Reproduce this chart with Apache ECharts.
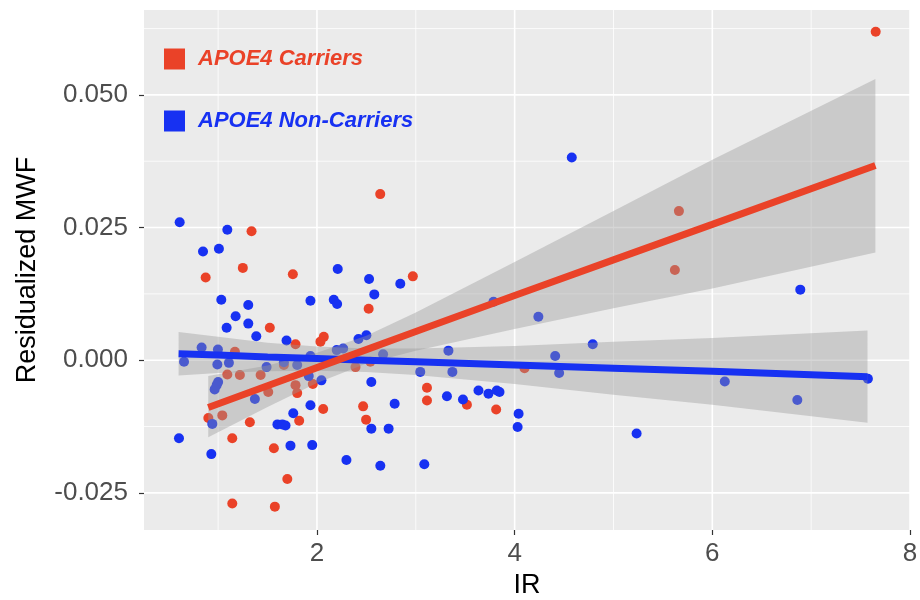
<!DOCTYPE html>
<html><head><meta charset="utf-8">
<script src="https://cdn.jsdelivr.net/npm/echarts@6/dist/echarts.min.js"></script>
<style>html,body{margin:0;padding:0;background:#fff}#c{width:920px;height:600px}</style>
</head><body><div id="c"></div>
<script>
// ---------- data ----------
const carriersIR = [1.338,1.25,0.874,1.756,1.523,1.783,2.069,2.035,1.17,1.093,1.22,1.43,1.783,1.958,1.507,1.80,2.063,0.901,1.042,1.321,1.82,1.143,1.564,1.70,1.143,1.574,2.64,2.97,2.523,2.39,2.54,3.113,3.113,2.467,2.497,3.517,3.813,4.10,5.662,5.621,7.653,1.665];
const carriersMWF = [0.0243,0.0174,0.0156,0.0162,0.0061,0.0030,0.0044,0.0035,0.0016,-0.0027,-0.0028,-0.0028,-0.0047,-0.0045,-0.0060,-0.0062,-0.0092,-0.0109,-0.0104,-0.0117,-0.0114,-0.0147,-0.0166,-0.0224,-0.0270,-0.0276,0.0313,0.0158,0.0097,-0.0013,-0.0003,-0.0052,-0.0076,-0.0087,-0.0112,-0.0084,-0.0093,-0.0015,0.0281,0.0170,0.0619,-0.0009];

const nonCarriersIR = [0.611,1.093,0.847,1.008,2.21,1.032,1.305,1.934,2.17,2.204,1.177,1.305,1.086,1.386,1.692,0.833,0.998,0.655,0.992,1.109,1.49,1.665,1.934,2.20,1.00,0.985,0.965,1.917,2.045,1.372,1.76,1.934,0.941,1.60,1.65,1.682,0.604,1.732,1.952,0.931,2.527,2.58,2.843,3.786,4.24,2.265,2.42,2.50,2.669,3.33,3.045,3.37,2.55,2.786,2.55,2.725,3.315,3.477,3.634,3.735,3.82,3.847,4.04,4.03,2.298,2.641,3.086,4.578,6.89,4.79,4.41,4.45,6.126,6.86,7.574,5.234,1.80];
const nonCarriersMWF = [0.0260,0.0246,0.0205,0.0210,0.0172,0.0114,0.0104,0.0112,0.0114,0.0106,0.0083,0.0069,0.0061,0.0045,0.0037,0.0024,0.0020,-0.0003,-0.0008,-0.0005,-0.0013,-0.0004,0.0008,0.0019,-0.0041,-0.0047,-0.0055,-0.0030,-0.0038,-0.0073,-0.0100,-0.0085,-0.0120,-0.0121,-0.0121,-0.0123,-0.0147,-0.0161,-0.0160,-0.0177,0.0153,0.0124,0.0144,0.0110,0.0082,0.0022,0.0040,0.0047,0.0011,0.0018,-0.0022,-0.0022,-0.0041,-0.0082,-0.0129,-0.0129,-0.0068,-0.0074,-0.0057,-0.0063,-0.0057,-0.0060,-0.0101,-0.0126,-0.0188,-0.0199,-0.0196,0.0382,0.0133,0.0030,0.0008,-0.0024,-0.0040,-0.0075,-0.0035,-0.0138,-0.0009];

// fitted lines and confidence bands
const carriersFitIR = [0.9,1.5,2,2.5,3,4,5,6,7.65];
const carriersFit   = [-0.0089,-0.0048,-0.0014,0.0020,0.0054,0.0122,0.0189,0.0256,0.0367];
const carriersLower = [-0.0145,-0.0088,-0.0043,-0.0006,0.0018,0.0059,0.0098,0.0135,0.0203];
const carriersUpper = [-0.0030,-0.0010,0.0014,0.0046,0.0090,0.0185,0.0281,0.0378,0.0530];

const nonCarriersFitIR = [0.6,1,1.5,2,2.5,3,4,5,6,7.57];
const nonCarriersFit   = [0.0012,0.0010,0.0006,0.0003,0.0000,-0.0003,-0.0009,-0.0015,-0.0021,-0.0031];
const nonCarriersLower = [-0.0029,-0.0024,-0.0021,-0.0020,-0.0022,-0.0028,-0.0045,-0.0065,-0.0084,-0.0118];
const nonCarriersUpper = [0.0053,0.0044,0.0033,0.0026,0.0022,0.0022,0.0027,0.0035,0.0042,0.0056];

// axes
const xRange = [0.25, 8.0];
const yRange = [-0.032, 0.066];
const xMajorTicks = [2,4,6,8];
const xMinorTicks = [1,3,5,7];
const yMajorTicks = [-0.025,0,0.025,0.05];
const yMinorTicks = [-0.0125,0.0125,0.0375,0.0625];

// ---------- chart ----------
const RED = '#EA4228';
const BLUE = '#1731F2';
const FONT = 'Liberation Sans, Arial, sans-serif';
const zip = (a, b) => a.map((v, i) => [v, b[i]]);

function bandSeries(name, xs, lo, hi) {
  return {
    type: 'custom', name: name, z: 3, silent: true, animation: false,
    data: xs.map((x, i) => [x, lo[i], hi[i]]),
    encode: { x: 0, y: [1, 2] },
    renderItem: function (params, api) {
      if (params.dataIndex !== 0) return null;
      const pts = [];
      for (let i = 0; i < xs.length; i++) pts.push(api.coord([xs[i], hi[i]]));
      for (let i = xs.length - 1; i >= 0; i--) pts.push(api.coord([xs[i], lo[i]]));
      return { type: 'polygon', shape: { points: pts }, style: { fill: 'rgba(153,153,153,0.4)' } };
    }
  };
}

// grid lines drawn through the axes' scales
function gridSeries(vertical, majors, minors) {
  const vals = majors.concat(minors);
  return {
    type: 'custom', name: vertical ? 'vgrid' : 'hgrid', z: 1, silent: true, animation: false, clip: true,
    data: vals.map(v => vertical ? [v, yRange[0]] : [xRange[0], v]),
    encode: { x: 0, y: 1 },
    renderItem: function (params, api) {
      const cs = params.coordSys;
      const v = api.value(vertical ? 0 : 1);
      const p = api.coord([api.value(0), api.value(1)]);
      const w = majors.indexOf(v) >= 0 ? 1.6 : 0.8;
      const shape = vertical
        ? { x1: p[0], y1: cs.y, x2: p[0], y2: cs.y + cs.height }
        : { x1: cs.x, y1: p[1], x2: cs.x + cs.width, y2: p[1] };
      return { type: 'line', shape: shape, style: { stroke: '#ffffff', lineWidth: w } };
    }
  };
}

const chart = echarts.init(document.getElementById('c'), null, { renderer: 'canvas' });
chart.setOption({
  animation: false,
  backgroundColor: '#ffffff',
  textStyle: { fontFamily: FONT },
  grid: { left: 144, right: 10, top: 10, bottom: 70, show: true, backgroundColor: '#EBEBEB', borderWidth: 0,
    containLabel: false, outerBoundsMode: 'none' },
  legend: {
    orient: 'vertical', left: 164, top: 48, padding: 0,
    itemWidth: 21, itemHeight: 21, itemGap: 40, icon: 'rect', selectedMode: false,
    textStyle: { fontSize: 22, fontStyle: 'italic', fontWeight: 600, fontFamily: FONT, padding: [6, 0, 0, 8] },
    data: [
      { name: 'APOE4 Carriers', textStyle: { color: RED } },
      { name: 'APOE4 Non-Carriers', textStyle: { color: BLUE } }
    ]
  },
  xAxis: {
    type: 'value', min: xRange[0], max: xRange[1],
    name: 'IR', nameLocation: 'middle', nameGap: 33,
    nameTextStyle: { fontSize: 27, color: '#000', fontFamily: FONT },
    axisLine: { show: false, onZero: false },
    axisTick: { show: true, customValues: xMajorTicks, length: 5, lineStyle: { color: '#333', width: 1.2 } },
    axisLabel: { customValues: xMajorTicks, fontSize: 26, color: '#4D4D4D', margin: 11, fontFamily: FONT },
    splitLine: { show: false }
  },
  yAxis: {
    type: 'value', min: yRange[0], max: yRange[1],
    name: 'Residualized MWF', nameLocation: 'middle', nameGap: 103, nameRotate: 90,
    nameTextStyle: { fontSize: 27, color: '#000', fontFamily: FONT },
    axisLine: { show: false, onZero: false },
    axisTick: { show: true, customValues: yMajorTicks, length: 5, lineStyle: { color: '#333', width: 1.2 } },
    axisLabel: { customValues: yMajorTicks, fontSize: 26, color: '#4D4D4D', margin: 16, fontFamily: FONT,
      formatter: v => v.toFixed(3) },
    splitLine: { show: false }
  },
  series: [
    gridSeries(true, xMajorTicks, xMinorTicks),
    gridSeries(false, yMajorTicks, yMinorTicks),
    { type: 'scatter', name: 'APOE4 Carriers', data: zip(carriersIR, carriersMWF), symbolSize: 10, z: 2,
      itemStyle: { color: RED, opacity: 1 } },
    { type: 'scatter', name: 'APOE4 Non-Carriers', data: zip(nonCarriersIR, nonCarriersMWF), symbolSize: 10, z: 2,
      itemStyle: { color: BLUE, opacity: 1 } },
    bandSeries('band-carriers', carriersFitIR, carriersLower, carriersUpper),
    bandSeries('band-non-carriers', nonCarriersFitIR, nonCarriersLower, nonCarriersUpper),
    { type: 'line', name: 'fit-non-carriers', data: zip(nonCarriersFitIR, nonCarriersFit), z: 4, symbol: 'none', silent: true,
      lineStyle: { color: BLUE, width: 7 } },
    { type: 'line', name: 'fit-carriers', data: zip(carriersFitIR, carriersFit), z: 5, symbol: 'none', silent: true,
      lineStyle: { color: RED, width: 7 } }
  ]
});
</script></body></html>
